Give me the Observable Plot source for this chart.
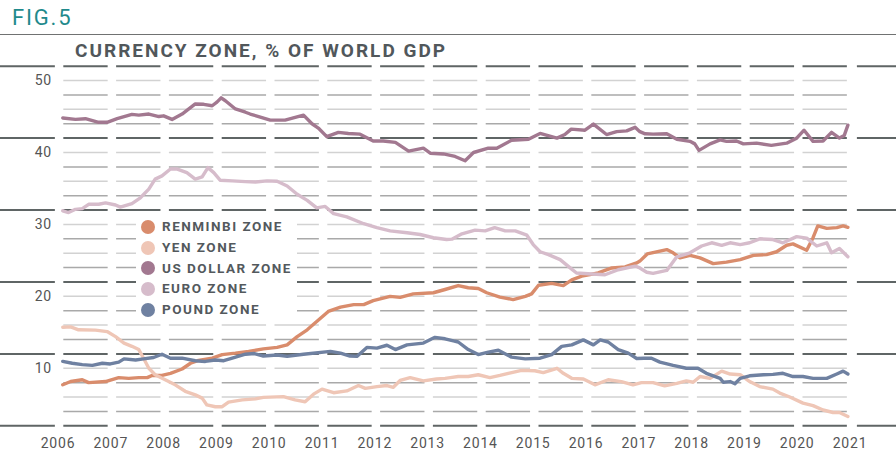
<!DOCTYPE html>
<html><head><meta charset="utf-8">
<script src="https://cdn.jsdelivr.net/npm/d3@7"></script>
<script src="https://cdn.jsdelivr.net/npm/@observablehq/plot@0.6"></script>
<style>
body{margin:0;background:#fff;font-family:Roboto,sans-serif}
#wrap{position:relative;width:896px;height:452px;overflow:hidden;background:#fff}
#fig{position:absolute;left:12px;top:7px;font-size:22px;line-height:1;letter-spacing:1.8px;color:#1f8a8c}
#rule{position:absolute;left:0;top:33.5px;width:896px;height:1.5px;background:#707272}
#title{position:absolute;left:75px;top:40.5px;font-size:19px;line-height:1;font-weight:700;letter-spacing:2px;color:#51575b;white-space:nowrap}
#chart{position:absolute;left:0;top:60px}
#chart svg text{letter-spacing:0.8px}
#legend{position:absolute;left:136px;top:214px;width:161px;height:104px;background:#fff}
.row{position:absolute;left:0;height:20px;display:flex;align-items:center}
.dot{width:14px;height:14px;border-radius:50%;margin-left:5px;margin-right:7px}
.lab{font-size:13.5px;line-height:1;font-weight:700;letter-spacing:1.5px;color:#53595d;white-space:nowrap}
</style></head>
<body>
<div id="wrap">
  <div id="fig">FIG.5</div>
  <div id="rule"></div>
  <div id="title">CURRENCY ZONE, % OF WORLD GDP</div>
  <div id="chart"></div>
  <div id="legend"></div>
</div>
<script>
const seriesNames = ["RENMINBI ZONE", "YEN ZONE", "US DOLLAR ZONE", "EURO ZONE", "POUND ZONE"];
const seriesColors = ["#d98c6c", "#efc6b6", "#a27890", "#d6bccb", "#6f81a1"];
const yearTicks = [2006,2007,2008,2009,2010,2011,2012,2013,2014,2015,2016,2017,2018,2019,2020,2021];
const valueTicks = [10, 20, 30, 40, 50];
const gridValues = [2,4,6,8,10,12,14,16,18,20,22,24,26,28,30,32,34,36,38,40,42,44,46,48,50,52];

const renminbi = [[2006.09,7.7],[2006.24,8.16],[2006.46,8.4],[2006.58,8.0],[2006.9,8.15],[2007.15,8.7],[2007.34,8.6],[2007.53,8.7],[2007.69,8.7],[2007.78,9.0],[2007.97,9.0],[2008.13,9.3],[2008.35,9.9],[2008.51,10.7],[2008.66,11.1],[2008.92,11.4],[2009.11,11.9],[2009.36,12.1],[2009.61,12.35],[2009.89,12.7],[2010.15,12.9],[2010.34,13.25],[2010.53,14.4],[2010.72,15.35],[2010.9,16.5],[2011.12,17.9],[2011.35,18.5],[2011.6,18.85],[2011.79,18.85],[2011.97,19.4],[2012.29,20.0],[2012.48,19.85],[2012.73,20.35],[2013.11,20.5],[2013.33,20.95],[2013.58,21.5],[2013.77,21.2],[2013.96,21.1],[2014.12,20.5],[2014.37,19.9],[2014.62,19.55],[2014.85,20.0],[2014.97,20.35],[2015.1,21.55],[2015.35,21.8],[2015.57,21.5],[2015.73,22.3],[2015.92,22.8],[2016.23,23.25],[2016.49,23.95],[2016.74,24.1],[2016.96,24.65],[2017.02,24.9],[2017.16,25.9],[2017.53,26.5],[2017.65,26.05],[2017.78,25.35],[2017.97,25.7],[2018.16,25.35],[2018.41,24.55],[2018.66,24.75],[2018.92,25.1],[2019.17,25.7],[2019.42,25.8],[2019.61,26.2],[2019.8,27.1],[2019.92,27.3],[2020.18,26.4],[2020.3,28.15],[2020.39,29.8],[2020.56,29.45],[2020.75,29.55],[2020.87,29.8],[2020.96,29.6]];

const yen = [[2006.09,15.7],[2006.24,15.75],[2006.39,15.35],[2006.71,15.3],[2006.93,15.1],[2007.09,14.4],[2007.25,13.5],[2007.4,13.05],[2007.53,12.6],[2007.62,11.4],[2007.72,10.0],[2007.84,9.1],[2008.03,8.4],[2008.22,7.7],[2008.41,6.8],[2008.6,6.3],[2008.73,5.85],[2008.82,4.9],[2008.98,4.65],[2009.11,4.65],[2009.23,5.3],[2009.49,5.6],[2009.74,5.75],[2009.89,5.95],[2010.27,6.05],[2010.49,5.6],[2010.68,5.35],[2010.84,6.4],[2011.0,7.1],[2011.22,6.6],[2011.47,6.85],[2011.69,7.6],[2011.82,7.2],[2012.04,7.45],[2012.23,7.6],[2012.35,7.35],[2012.48,8.3],[2012.67,8.7],[2012.92,8.25],[2013.17,8.5],[2013.33,8.6],[2013.43,8.7],[2013.58,8.85],[2013.77,8.85],[2013.96,9.1],[2014.18,8.7],[2014.37,9.0],[2014.53,9.3],[2014.78,9.7],[2015.03,9.65],[2015.19,9.4],[2015.45,10.0],[2015.57,9.3],[2015.73,8.6],[2015.95,8.5],[2016.17,7.7],[2016.42,8.4],[2016.67,8.15],[2016.89,7.7],[2017.05,8.0],[2017.27,8.0],[2017.49,7.55],[2017.72,7.9],[2017.9,8.25],[2018.03,8.05],[2018.16,8.85],[2018.35,8.6],[2018.57,9.6],[2018.73,9.2],[2018.92,9.1],[2019.1,8.15],[2019.29,7.45],[2019.54,7.1],[2019.67,6.55],[2019.86,6.0],[2020.11,5.15],[2020.3,4.8],[2020.49,4.2],[2020.68,3.85],[2020.8,3.85],[2020.96,3.3]];

const usDollar = [[2006.09,44.8],[2006.33,44.6],[2006.52,44.7],[2006.77,44.2],[2006.93,44.2],[2007.12,44.7],[2007.4,45.3],[2007.53,45.2],[2007.72,45.35],[2007.91,45.0],[2008.0,45.1],[2008.16,44.6],[2008.35,45.35],[2008.6,46.75],[2008.76,46.7],[2008.92,46.5],[2009.01,47.0],[2009.09,47.6],[2009.17,47.2],[2009.36,46.05],[2009.55,45.6],[2009.64,45.35],[2009.8,45.0],[2010.02,44.5],[2010.3,44.5],[2010.65,45.2],[2010.81,44.0],[2010.93,43.4],[2011.09,42.2],[2011.31,42.8],[2011.5,42.65],[2011.72,42.55],[2011.97,41.6],[2012.16,41.6],[2012.39,41.4],[2012.64,40.2],[2012.92,40.6],[2013.05,39.9],[2013.3,39.8],[2013.52,39.45],[2013.71,38.85],[2013.87,40.0],[2014.15,40.6],[2014.31,40.6],[2014.59,41.7],[2014.91,41.85],[2015.13,42.65],[2015.45,42.0],[2015.6,42.5],[2015.72,43.25],[2015.98,43.1],[2016.14,43.95],[2016.39,42.5],[2016.58,42.9],[2016.77,43.0],[2016.93,43.5],[2017.02,42.9],[2017.12,42.6],[2017.27,42.55],[2017.53,42.6],[2017.72,41.85],[2017.97,41.55],[2018.06,41.2],[2018.14,40.3],[2018.35,41.2],[2018.54,41.75],[2018.66,41.55],[2018.85,41.6],[2018.98,41.2],[2019.23,41.3],[2019.51,41.0],[2019.8,41.3],[2019.99,42.0],[2020.13,43.1],[2020.3,41.55],[2020.49,41.6],[2020.65,42.8],[2020.8,42.0],[2020.89,42.35],[2020.96,43.8]];

const euro = [[2006.09,31.9],[2006.2,31.65],[2006.33,32.1],[2006.46,32.2],[2006.58,32.8],[2006.77,32.8],[2006.9,33.0],[2007.09,32.7],[2007.18,32.4],[2007.4,32.9],[2007.56,33.7],[2007.72,34.9],[2007.84,36.3],[2007.97,36.75],[2008.13,37.7],[2008.26,37.7],[2008.44,37.2],[2008.6,36.3],[2008.73,36.6],[2008.84,37.9],[2008.95,37.2],[2009.07,36.15],[2009.3,36.05],[2009.55,35.95],[2009.74,35.9],[2009.96,36.05],[2010.15,36.0],[2010.34,35.35],[2010.53,34.2],[2010.72,33.35],[2010.9,32.3],[2011.06,32.5],[2011.22,31.5],[2011.47,31.05],[2011.79,30.1],[2012.04,29.55],[2012.29,29.1],[2012.61,28.85],[2012.86,28.6],[2013.11,28.15],[2013.36,27.9],[2013.46,27.95],[2013.65,28.7],[2013.9,29.2],[2014.09,29.1],[2014.27,29.55],[2014.47,29.1],[2014.66,29.1],[2014.88,28.5],[2015.0,27.2],[2015.13,26.2],[2015.29,25.8],[2015.51,25.1],[2015.7,23.95],[2015.82,23.25],[2016.11,23.1],[2016.36,23.0],[2016.61,23.7],[2016.93,24.2],[2017.02,23.95],[2017.15,23.35],[2017.27,23.2],[2017.53,23.6],[2017.72,25.5],[2017.97,26.05],[2018.19,27.0],[2018.38,27.45],[2018.57,27.1],[2018.73,27.45],[2018.92,27.2],[2019.1,27.45],[2019.29,28.0],[2019.54,27.9],[2019.73,27.45],[2019.99,28.3],[2020.18,28.1],[2020.37,27.0],[2020.56,27.45],[2020.65,26.05],[2020.8,26.65],[2020.96,25.5]];

const pound = [[2006.09,10.95],[2006.27,10.7],[2006.46,10.5],[2006.65,10.4],[2006.84,10.7],[2006.99,10.6],[2007.15,10.85],[2007.25,11.3],[2007.47,11.15],[2007.62,11.3],[2007.81,11.5],[2007.97,11.95],[2008.13,11.4],[2008.35,11.4],[2008.6,11.05],[2008.79,10.95],[2008.98,11.15],[2009.14,11.05],[2009.3,11.4],[2009.55,11.95],[2009.72,12.05],[2009.89,11.7],[2010.15,11.85],[2010.34,11.65],[2010.65,11.95],[2011.16,12.35],[2011.35,12.1],[2011.53,11.7],[2011.66,11.65],[2011.85,12.9],[2012.04,12.8],[2012.23,13.2],[2012.39,12.6],[2012.61,13.25],[2012.92,13.5],[2013.14,14.3],[2013.33,14.1],[2013.49,13.8],[2013.58,13.65],[2013.77,12.6],[2013.96,11.9],[2014.15,12.25],[2014.34,12.5],[2014.59,11.55],[2014.85,11.3],[2015.13,11.4],[2015.35,11.9],[2015.54,13.05],[2015.73,13.25],[2015.95,13.95],[2016.14,13.25],[2016.27,13.95],[2016.42,13.65],[2016.61,12.6],[2016.8,12.1],[2016.96,11.35],[2017.1,11.4],[2017.24,11.4],[2017.4,10.85],[2017.65,10.4],[2017.9,10.0],[2018.12,10.0],[2018.28,9.3],[2018.54,8.6],[2018.6,8.05],[2018.73,8.15],[2018.82,7.85],[2018.92,8.6],[2019.1,8.95],[2019.36,9.1],[2019.54,9.15],[2019.73,9.3],[2019.92,8.85],[2020.11,8.85],[2020.3,8.6],[2020.56,8.6],[2020.75,9.2],[2020.87,9.6],[2020.96,9.2]];

const seriesData = [renminbi, yen, usDollar, euro, pound];

// long table for Plot
const rows = [];
seriesData.forEach((arr, i) => arr.forEach(([t, v]) => rows.push({name: seriesNames[i], t, v})));

// dashed grid: segments between year ticks
const gapBefore = 0.05, gapAfter = 0.11;
const segs = [];
for (const v of gridValues) {
  const major = v % 10 === 2;
  const kind = major ? "major" : ((v % 10 === 4 || v % 10 === 8) ? "mid" : "light");
  for (let i = 0; i < yearTicks.length - 1; i++) {
    segs.push({v, kind, x1: yearTicks[i] + gapAfter, x2: yearTicks[i + 1] - gapBefore});
  }
  if (major) {
    segs.push({v, kind, x1: yearTicks[0] - 2, x2: yearTicks[0] - gapBefore});
    segs.push({v, kind, x1: yearTicks[yearTicks.length - 1] + 0.14, x2: yearTicks[yearTicks.length - 1] + 2});
  }
}
const gridStroke = {major: "#5f6565", mid: "#a9a9a9", light: "#d2d2d2"};

const chart = Plot.plot({
  width: 896,
  height: 392,
  marginLeft: 57.5,
  marginRight: 46.5,
  marginTop: 5.7,
  marginBottom: 26.7,
  style: {fontFamily: "Roboto, sans-serif", fontSize: "14px", color: "#555", background: "transparent", overflow: "visible"},
  x: {domain: [yearTicks[0], yearTicks[yearTicks.length - 1]], ticks: yearTicks, tickFormat: "d", tickSize: 0, tickPadding: 12.5, label: null},
  y: {domain: [gridValues[0], gridValues[gridValues.length - 1]], ticks: valueTicks, tickSize: 0, tickPadding: 6, label: null},
  color: {domain: seriesNames, range: seriesColors},
  marks: [
    Plot.ruleY(segs.filter(d => d.kind !== "major"), {y: "v", x1: "x1", x2: "x2", stroke: d => gridStroke[d.kind], strokeWidth: 1.5}),
    Plot.ruleY(segs.filter(d => d.kind === "major"), {y: "v", x1: "x1", x2: "x2", stroke: gridStroke.major, strokeWidth: 2}),
    Plot.line(rows, {x: "t", y: "v", z: "name", stroke: "name", strokeWidth: 3.4, strokeLinejoin: "round", strokeLinecap: "round"})
  ]
});
document.getElementById("chart").appendChild(chart);

// legend
const legend = document.getElementById("legend");
const rowTops = [12.7, 33.5, 54.3, 75.1, 95.9];
seriesNames.forEach((n, i) => {
  const r = document.createElement("div");
  r.className = "row";
  r.style.top = (rowTops[i] - 10) + "px";
  r.innerHTML = `<span class="dot" style="background:${seriesColors[i]}"></span><span class="lab">${n}</span>`;
  legend.appendChild(r);
});
</script>
</body></html>
